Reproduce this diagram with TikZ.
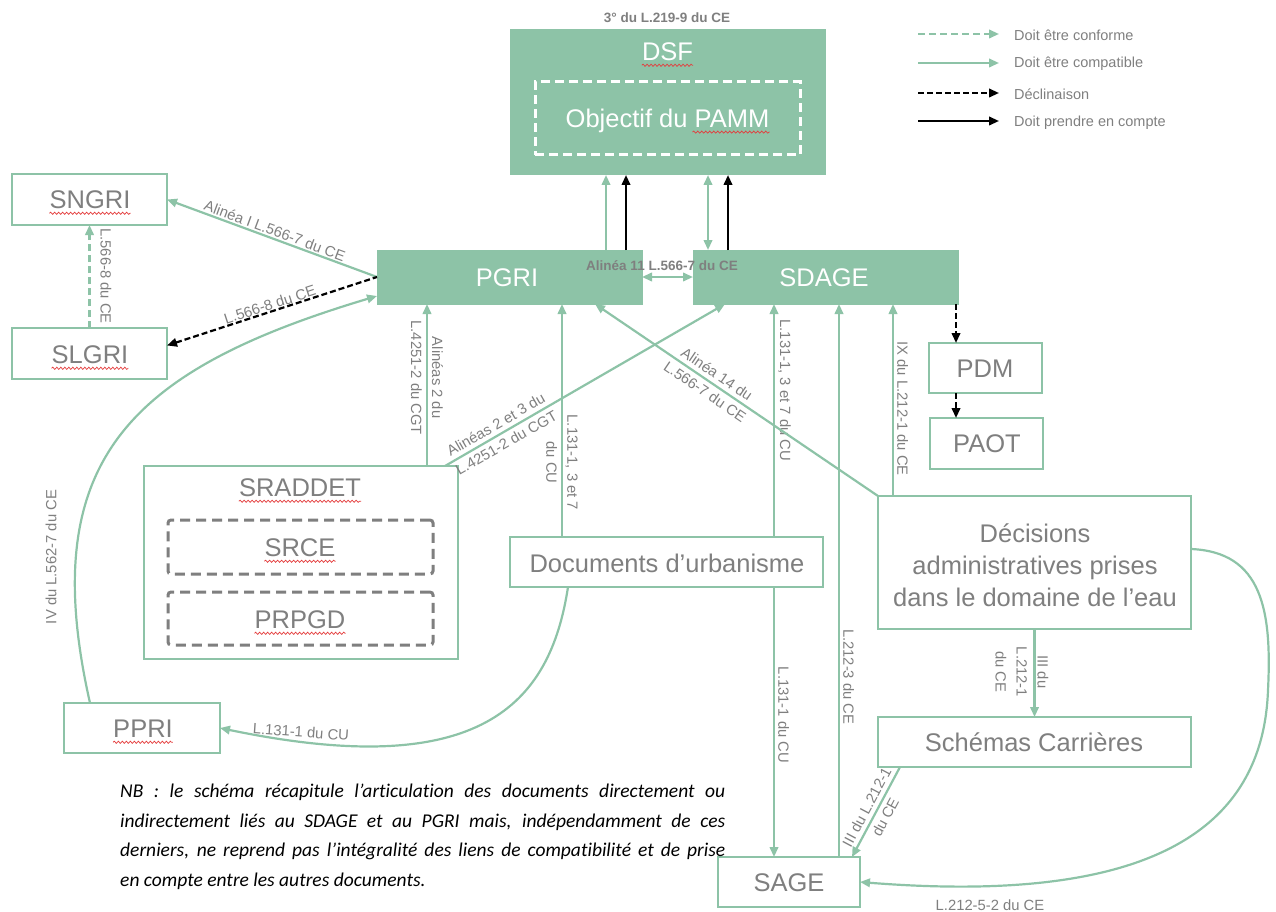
\documentclass[tikz,border=0pt]{standalone}
\usepackage{fontspec}
\setmainfont{Liberation Sans}
\newfontfamily\nbfont[Ligatures=NoCommon]{Carlito}
\usetikzlibrary{arrows.meta,decorations.pathmorphing}
\definecolor{vert}{RGB}{141,195,167}
\definecolor{gristxt}{RGB}{127,127,127}
\definecolor{spellred}{RGB}{228,60,60}
\newcommand\spellunder[1]{\draw[squig] ([yshift=-4.5pt]#1.base west) -- ([yshift=-4.5pt]#1.base east);}
\begin{document}
\begin{tikzpicture}[x=1pt,y=-1pt,>={Triangle[length=10pt,width=8.5pt]},
  compat/.style={draw=vert, line width=2.2pt},
  conf/.style={draw=vert, line width=2.2pt, dash pattern=on 7pt off 4pt},
  decl/.style={draw=black, line width=2.2pt, dash pattern=on 6pt off 3pt},
  prise/.style={draw=black, line width=2.2pt},
  box/.style={draw=vert, line width=2.5pt, fill=white, inner sep=0pt, outer sep=0pt},
  fbox/.style={draw=vert, fill=vert, line width=1pt, inner sep=0pt, outer sep=0pt},
  dbox/.style={draw=gristxt, line width=3pt, dash pattern=on 10pt off 6pt, rounded corners=3pt, inner sep=0pt},
  big/.style={font=\fontsize{25.5}{32}\selectfont, text=gristxt, inner sep=0pt, align=center},
  bigw/.style={big, text=white},
  lab/.style={font=\fontsize{14.8}{21}\selectfont, text=gristxt, inner sep=1.5pt, align=center},
  labb/.style={font=\fontsize{13.5}{16}\selectfont\bfseries, text=gristxt, inner sep=0pt},
  leg/.style={font=\fontsize{14.5}{17}\selectfont, text=gristxt, inner sep=0pt, anchor=west},
  squig/.style={draw=spellred, line width=0.7pt, decorate, decoration={snake, segment length=4pt, amplitude=1.1pt}},
]
\useasboundingbox (0,0) rectangle (1276,912);

% ---------- boxes ----------
\node[fbox, minimum width=315pt, minimum height=145pt] (dsf) at (667.5,102.5) {};
\node[bigw] (dsf-t) at (667.5,52) {DSF};
\node[draw=white, line width=3pt, dash pattern=on 9pt off 5pt, minimum width=265pt, minimum height=73pt, inner sep=0pt] (pamm) at (667.5,118.5) {};
\node[bigw] (pamm-t) at (667.5,121) {Objectif du PAMM};
\node[labb] (dsf-l) at (667,18) {3° du L.219-9 du CE};

\node[fbox, minimum width=265pt, minimum height=54pt] (pgri) at (509.5,277) {};
\node[bigw] (pgri-t) at (507,278) {PGRI};
\node[fbox, minimum width=265pt, minimum height=54pt] (sdage) at (825.5,277) {};
\node[bigw] (sdage-t) at (824,278) {SDAGE};

\node[box, minimum width=155pt, minimum height=51pt] (sngri) at (89.5,199.5) {};
\node[big] (sngri-t) at (90,200) {SNGRI};
\node[box, minimum width=155pt, minimum height=51pt] (slgri) at (89.5,353.5) {};
\node[big] (slgri-t) at (90,355) {SLGRI};

\node[box, minimum width=113pt, minimum height=50pt] (pdm) at (985.5,368) {};
\node[big] (pdm-t) at (985,369) {PDM};
\node[box, minimum width=113pt, minimum height=51pt] (paot) at (986.5,443.5) {};
\node[big] (paot-t) at (987,444) {PAOT};

\node[box, minimum width=314pt, minimum height=193pt] (sraddet) at (301,562.5) {};
\node[big] (sraddet-t) at (300,488) {SRADDET};
\node[dbox, minimum width=265pt, minimum height=54pt] (srce) at (300.5,547) {};
\node[big] (srce-t) at (300,548) {SRCE};
\node[dbox, minimum width=265pt, minimum height=53pt] (prpgd) at (300.5,618.5) {};
\node[big] (prpgd-t) at (300,620) {PRPGD};

\node[box, minimum width=313pt, minimum height=50pt] (docs) at (666.5,562) {};
\node[big] (docs-t) at (667,563) {Documents d’urbanisme};

\node[box, minimum width=313pt, minimum height=133pt] (dec) at (1034.5,562.5) {};
\node[big] (dec-t) at (1035,565) {Décisions\\administratives prises\\dans le domaine de l’eau};

\node[box, minimum width=313pt, minimum height=50pt] (sch) at (1034.5,742) {};
\node[big] (sch-t) at (1034,742) {Schémas Carrières};

\node[box, minimum width=156pt, minimum height=50pt] (ppri) at (142,728) {};
\node[big] (ppri-t) at (143,729) {PPRI};

\node[box, minimum width=142pt, minimum height=50pt] (sage) at (789,882) {};
\node[big] (sage-t) at (789,883) {SAGE};

% ---------- spelling marks ----------
\spellunder{sngri-t}
\spellunder{slgri-t}
\spellunder{dsf-t}
\spellunder{sraddet-t}
\spellunder{srce-t}
\spellunder{prpgd-t}
\spellunder{ppri-t}
\draw[squig] ([xshift=-77pt,yshift=-4.5pt]pamm-t.base east) -- ([yshift=-4.5pt]pamm-t.base east);

% ---------- connectors ----------
\draw[compat,->] (pgri.north -| 606,0) -- (dsf.south -| 606,0);
\draw[prise,->] (pgri.north -| 626,0) -- (dsf.south -| 626,0);
\draw[compat,<->] (sdage.north -| 708,0) -- (dsf.south -| 708,0);
\draw[prise,->] (sdage.north -| 728,0) -- (dsf.south -| 728,0);
\draw[compat,<->] (pgri.east) -- (sdage.west);

\draw[compat,<-] (sngri.east) -- node[lab,sloped,above]{Alinéa I L.566-7 du CE} (pgri.west);
\draw[decl,<-] ([yshift=8pt]slgri.east) -- node[lab,sloped,above=-1pt]{L.566-8 du CE} (pgri.west);
\draw[conf,->] (slgri.north) -- (sngri.south);
\node[lab,rotate=-90] (l5668) at (106,276) {L.566-8 du CE};

\draw[compat,->] (ppri.north -| 90,0) .. controls (35,460) and (130,370) .. ([yshift=-19pt]pgri.west);
\node[lab,rotate=90] (l5627) at (51,557) {IV du L.562-7 du CE};

\draw[compat,->] (sraddet.north -| 427,0) -- node[lab,rotate=-90,pos=0.545]{Alinéas 2 du\\L.4251-2 du CGT} (pgri.south -| 427,0);
\draw[compat,->] (sraddet.north -| 445,0) -- node[lab,sloped,pos=0.2]{Alinéas 2 et 3 du\\L.4251-2 du CGT} (sdage.south -| 725,0);

\draw[compat,->] (docs.north -| 562,0) -- node[lab,rotate=-90,pos=0.32]{L.131-1, 3 et 7\\du CU} (pgri.south -| 562,0);
\draw[compat,->] (docs.north -| 774,0) -- node[lab,rotate=-90,anchor=south,inner sep=3pt,pos=0.63]{L.131-1, 3 et 7 du CU} (sdage.south -| 774,0);
\draw[compat,->] (docs.south -| 774,0) -- node[lab,rotate=-90,anchor=south,inner sep=3pt,pos=0.474]{L.131-1 du CU} (sage.north -| 774,0);
\draw[compat,<-] (sdage.south -| 839,0) -- node[lab,rotate=-90,anchor=south,inner sep=3pt,pos=0.674]{L.212-3 du CE} (sage.north -| 839,0);
\draw[compat,<-] (sdage.south -| 893,0) -- node[lab,rotate=-90,anchor=south,inner sep=3pt,pos=0.545]{IX du L.212-1 du CE} (dec.north -| 893,0);
\draw[compat,<-] (pgri.south -| 595,0) -- node[lab,sloped,pos=0.41]{Alinéa 14 du\\L.566-7 du CE} (dec.north west);

\draw[decl,->] (sdage.south -| 956,0) -- (pdm.north -| 956,0);
\draw[decl,->] (pdm.south -| 956,0) -- (paot.north -| 956,0);

\draw[compat,->] (dec.south) -- (sch.north);
\node[lab,rotate=-90] (l2121) at (1022,672) {III du\\L.212-1\\du CE};

\draw[compat,<-] (sage.north -| 852,0) -- node[lab,sloped]{III du L.212-1\\du CE} (sch.south -| 900,0);

\draw[compat,->] (dec.east |- 0,549) .. controls (1262,552) and (1272,610) .. (1268,690) .. controls (1263,830) and (1150,905) .. (sage.east);
\node[lab] (l21252) at (990,905) {L.212-5-2 du CE};

\draw[compat,->] (docs.south -| 568,0) .. controls (550,705) and (480,782) .. (ppri.east);
\node[lab,rotate=-4] (l1311) at (301,732) {L.131-1 du CU};

\node[labb] (l11) at (662,266) {Alinéa 11 L.566-7 du CE};

% ---------- legend ----------
\coordinate (lg1a) at (918,34); \coordinate (lg1b) at (999,34);
\coordinate (lg2a) at (918,63); \coordinate (lg2b) at (999,63);
\coordinate (lg3a) at (918,93); \coordinate (lg3b) at (999,93);
\coordinate (lg4a) at (918,121); \coordinate (lg4b) at (999,121);
\draw[conf,->] (lg1a) -- (lg1b);
\draw[compat,->] (lg2a) -- (lg2b);
\draw[decl,->] (lg3a) -- (lg3b);
\draw[prise,->] (lg4a) -- (lg4b);
\node[leg] (lg1) at (1014,35) {Doit être conforme};
\node[leg] (lg2) at (1014,64) {Doit être compatible};
\node[leg] (lg3) at (1014,94) {Déclinaison};
\node[leg] (lg4) at (1014,123) {Doit prendre en compte};

% ---------- note ----------
\node[anchor=north west, inner sep=0pt, text width=605pt, align=justify,
      font=\nbfont\itshape\fontsize{19.5}{29.5}\selectfont] (nb) at (120,784)
  {NB : le schéma récapitule l’articulation des documents directement ou\linebreak
   indirectement liés au SDAGE et au PGRI mais, indépendamment de ces\linebreak
   derniers, ne reprend pas l’intégralité des liens de compatibilité et de prise\linebreak
   en compte entre les autres documents.};
\end{tikzpicture}
\end{document}
